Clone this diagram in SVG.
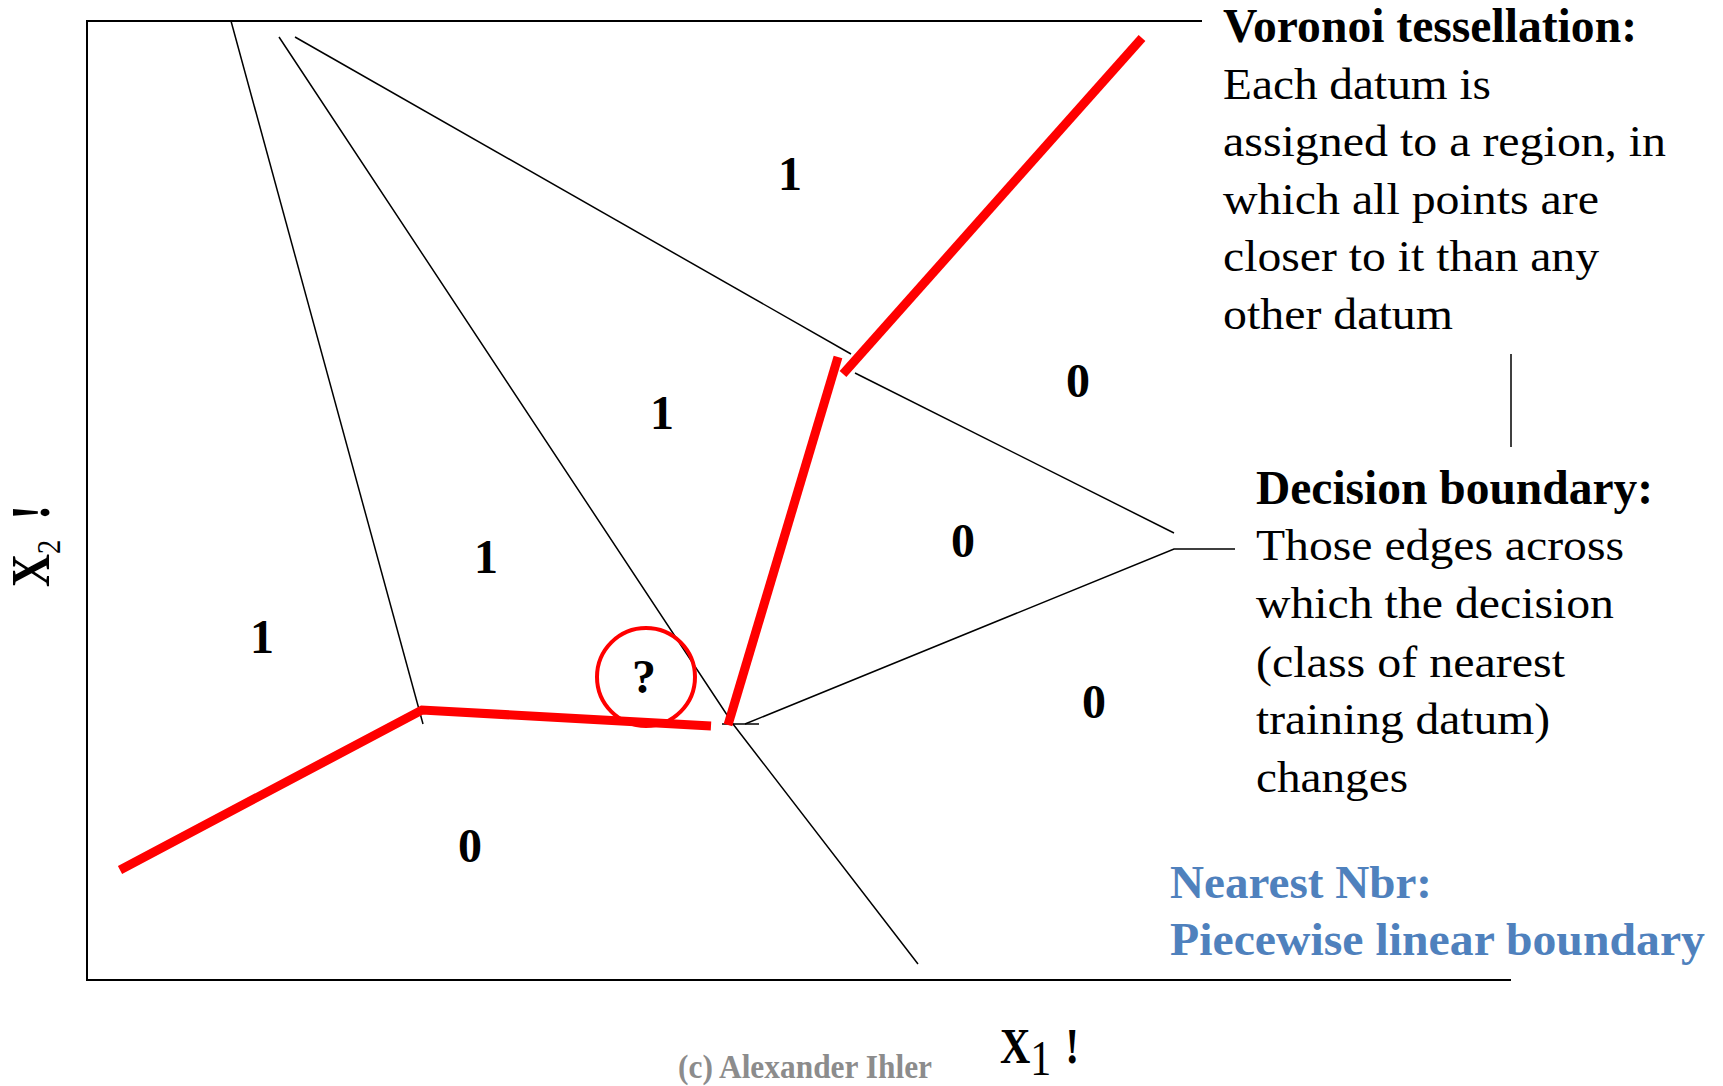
<svg xmlns="http://www.w3.org/2000/svg" width="1723" height="1086" viewBox="0 0 1723 1086">
  <style>
    .frame { fill: none; stroke: #000; stroke-width: 2; }
    .edge { fill: none; stroke: #000; stroke-width: 1.5; }
    .bound { fill: none; stroke: #ff0000; stroke-width: 9; stroke-linejoin: miter; stroke-linecap: butt; }
    .serif { font-family: "Liberation Serif", "Times New Roman", serif; }
    .lbl { font-family: "Liberation Serif", "Times New Roman", serif; font-weight: bold; font-size: 48px; fill: #000; text-anchor: middle; }
    .title { font-family: "Liberation Serif", "Times New Roman", serif; font-weight: bold; font-size: 48px; fill: #000; }
    .body { font-family: "Liberation Serif", "Times New Roman", serif; font-size: 45px; fill: #000; }
    .blue { font-family: "Liberation Serif", "Times New Roman", serif; font-weight: bold; font-size: 47px; fill: #4F81BD; }
  </style>
  <rect width="1723" height="1086" fill="#ffffff"/>

  <g id="frame">
    <path class="frame" d="M1202,21 H87 V980 H1511"/>
    <line class="edge" x1="1511" y1="354" x2="1511" y2="447"/>
  </g>

  <g id="connectors">
    <line class="edge" x1="231" y1="21" x2="423" y2="724"/>
    <polyline class="edge" points="279,37 733,724 918,964"/>
    <line class="edge" x1="295" y1="37" x2="851" y2="354"/>
    <line class="edge" x1="855" y1="373" x2="1174" y2="533"/>
    <polyline class="edge" points="745,724 1174,549 1235,549"/>
    <line class="edge" x1="722" y1="724" x2="759" y2="724"/>
  </g>

  <g id="decision-boundary">
    <polyline class="bound" points="120,870 422,710 711,726"/>
    <line class="bound" x1="728" y1="725" x2="838" y2="357"/>
    <line class="bound" x1="843" y1="374" x2="1142" y2="38"/>
  </g>

  <g id="query">
    <circle cx="646" cy="677" r="49" fill="none" stroke="#ff0000" stroke-width="4"/>
    <text class="lbl" x="644" y="693">?</text>
  </g>

  <g id="region-labels">
    <text class="lbl" x="790" y="190">1</text>
    <text class="lbl" x="662" y="429">1</text>
    <text class="lbl" x="1078" y="397">0</text>
    <text class="lbl" x="486" y="573">1</text>
    <text class="lbl" x="262" y="653">1</text>
    <text class="lbl" x="963" y="557">0</text>
    <text class="lbl" x="1094" y="718">0</text>
    <text class="lbl" x="470" y="862">0</text>
  </g>

  <g id="axis-x2">
    <text class="serif" transform="translate(49,587) rotate(-90) scale(0.95,1.15)" font-size="48" font-weight="bold">X<tspan font-weight="normal" font-size="30" dy="9.5">2</tspan><tspan dy="-9.5" dx="9"> !</tspan></text>
  </g>

  <g id="axis-x1">
    <text class="serif" transform="translate(1000,1063) scale(0.84,1)" font-size="50" font-weight="bold">X<tspan font-weight="normal" dy="12">1</tspan><tspan dy="-12" dx="4"> !</tspan></text>
  </g>

  <g id="voronoi-note">
    <text class="title" x="1223" y="41.5" textLength="414" lengthAdjust="spacingAndGlyphs">Voronoi tessellation:</text>
    <text class="body" x="1223" y="98.5" textLength="268" lengthAdjust="spacingAndGlyphs">Each datum is</text>
    <text class="body" x="1223" y="156" textLength="443" lengthAdjust="spacingAndGlyphs">assigned to a region, in</text>
    <text class="body" x="1223" y="213.5" textLength="376" lengthAdjust="spacingAndGlyphs">which all points are</text>
    <text class="body" x="1223" y="271" textLength="376" lengthAdjust="spacingAndGlyphs">closer to it than any</text>
    <text class="body" x="1223" y="328.5" textLength="230" lengthAdjust="spacingAndGlyphs">other datum</text>
  </g>

  <g id="decision-note">
    <text class="title" x="1256" y="503.5" textLength="397" lengthAdjust="spacingAndGlyphs">Decision boundary:</text>
    <text class="body" x="1256" y="560" textLength="368" lengthAdjust="spacingAndGlyphs">Those edges across</text>
    <text class="body" x="1256" y="618" textLength="358" lengthAdjust="spacingAndGlyphs">which the decision</text>
    <text class="body" x="1256" y="676.5" textLength="309" lengthAdjust="spacingAndGlyphs">(class of nearest</text>
    <text class="body" x="1256" y="733.5" textLength="294" lengthAdjust="spacingAndGlyphs">training datum)</text>
    <text class="body" x="1256" y="791.5" textLength="152" lengthAdjust="spacingAndGlyphs">changes</text>
  </g>

  <g id="nn-note">
    <text class="blue" x="1170" y="897.5" textLength="262" lengthAdjust="spacingAndGlyphs">Nearest Nbr:</text>
    <text class="blue" x="1170" y="955" textLength="535" lengthAdjust="spacingAndGlyphs">Piecewise linear boundary</text>
  </g>

  <g id="copyright">
    <text class="serif" x="678" y="1078" font-size="34" font-weight="bold" fill="#8C8C8C" textLength="254" lengthAdjust="spacingAndGlyphs">(c) Alexander Ihler</text>
  </g>
</svg>
